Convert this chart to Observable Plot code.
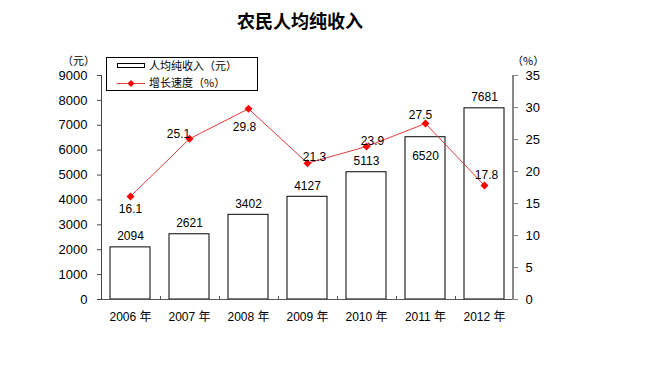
<!DOCTYPE html>
<html>
<head>
<meta charset="utf-8">
<script src="https://cdn.jsdelivr.net/npm/d3@7"></script>
<script src="https://cdn.jsdelivr.net/npm/@observablehq/plot@0.6"></script>
<style>
  html, body { margin: 0; padding: 0; background: #fff; }
  #wrap { position: relative; width: 649px; height: 384px; font-family: "Liberation Sans", Arial, "Noto Sans CJK SC", sans-serif; color: #000; }
  #chart { position: absolute; left: 0; top: 0; }
  .abs { position: absolute; white-space: nowrap; }
  #title { left: 0; width: 600px; top: 7px; text-align: center; font-family: "Noto Sans CJK SC", sans-serif; font-weight: bold; font-size: 18px; }
  #legend { left: 106px; top: 57px; width: 150px; height: 32px; border: 1px solid #000; background: #fff; font-family: "Noto Sans CJK SC", sans-serif; font-size: 11px; }
  .unit { font-family: "Noto Sans CJK SC", sans-serif; font-size: 11px; top: 54px; line-height: 13px; height: 13px; }
</style>
</head>
<body>
<div id="wrap">
  <div id="chart"></div>
  <div id="title" class="abs">农民人均纯收入</div>
  <div class="abs unit" style="left:62px">（元）</div>
  <div class="abs unit" style="left:512px">（%）</div>
  <div id="legend" class="abs">
    <svg class="abs" style="left:0;top:0" width="150" height="32">
      <rect x="10.5" y="5.5" width="27" height="4" fill="#fff" stroke="#000"></rect>
      <line x1="10" x2="38" y1="25.5" y2="25.5" stroke="#e03c3c" stroke-width="1"></line>
      <path d="M24,22 L27.5,25.5 L24,29 L20.5,25.5 Z" fill="#ff0000"></path>
    </svg>
    <div class="abs" style="left:42px;top:0px;line-height:15px">人均纯收入（元）</div>
    <div class="abs" style="left:42px;top:17px;line-height:15px">增长速度（%）</div>
  </div>
</div>
<script>
const years = ["2006", "2007", "2008", "2009", "2010", "2011", "2012"];
const income = [2094, 2621, 3402, 4127, 5113, 6520, 7681];
const growth = [16.1, 25.1, 29.8, 21.3, 23.9, 27.5, 17.8];
const leftTicks = [0, 1000, 2000, 3000, 4000, 5000, 6000, 7000, 8000, 9000];
const rightTicks = [0, 5, 10, 15, 20, 25, 30, 35];

const yMax = 9000, rMax = 35, k = yMax / rMax;
const rows = years.map((y, i) => ({year: y, income: income[i], growth: growth[i], i}));

// label offsets (style)
const lineDx = [0, -11, -4, 7, 6, -5, 2];
const lineDy = [13, -5, 18, -6, -5, -8, -10];
const insideBar = [false, false, false, false, false, true, false];

const axisLines = (index, scales, values, dims) => {
  const g = d3.create("svg:g");
  const x0 = dims.marginLeft, x1 = dims.width - dims.marginRight;
  const y0 = dims.marginTop, y1 = dims.height - dims.marginBottom;
  g.append("line").attr("x1", x0).attr("x2", x1).attr("y1", y1 + 0.5).attr("y2", y1 + 0.5).attr("stroke", "#555");
  g.append("line").attr("x1", x0 + 0.5).attr("x2", x0 + 0.5).attr("y1", y0).attr("y2", y1 + 1).attr("stroke", "#444");
  g.append("line").attr("x1", x1).attr("x2", x1).attr("y1", y0).attr("y2", y1 + 1).attr("stroke", "#888").attr("stroke-width", 2);
  // small ticks at band boundaries
  const bw = scales.x.bandwidth(), step = scales.x.step();
  years.slice(1).forEach(yr => {
    const bx = Math.round(scales.x(yr) - (step - bw) / 2) + 0.5;
    g.append("line").attr("x1", bx).attr("x2", bx).attr("y1", y1 - 3).attr("y2", y1).attr("stroke", "#555");
  });
  return g.node();
};

const lineLabelMarks = rows.map((r, i) => Plot.text([r], {
  x: "year", y: d => d.growth * k, text: d => d.growth.toFixed(1),
  dx: lineDx[i], dy: lineDy[i], fontSize: 12, fill: "#000"
}));

const plot = Plot.plot({
  width: 649,
  height: 384,
  marginLeft: 101,
  marginRight: 136,
  marginTop: 75,
  marginBottom: 85,
  style: {fontFamily: "'Liberation Sans', Arial, 'Noto Sans CJK SC', sans-serif", background: "transparent", overflow: "visible"},
  x: {type: "band", domain: years, paddingInner: 0.32, paddingOuter: 0.15},
  y: {domain: [0, yMax]},
  marks: [
    Plot.barY(rows, {x: "year", y: "income", fill: "#fff", stroke: "#000", strokeWidth: 1}),
    axisLines,
    Plot.axisY({anchor: "left", ticks: leftTicks, tickFormat: d => String(d), tickSize: 4, tickPadding: 10, fontSize: 13, stroke: "#444", label: null}),
    Plot.axisY({anchor: "right", ticks: rightTicks.map(v => v * k), tickFormat: d => String(Math.round(d / k)), tickSize: 4, tickPadding: 8, fontSize: 13, stroke: "#888", label: null}),
    Plot.axisX({tickSize: 0, tickPadding: 13, tickFormat: d => d + " 年", fontSize: 12, label: null}),
    Plot.text(rows.filter(r => !insideBar[r.i]), {x: "year", y: "income", text: d => String(d.income), dy: -11, fontSize: 12, fill: "#000"}),
    Plot.text(rows.filter(r => insideBar[r.i]), {x: "year", y: "income", text: d => String(d.income), dy: 19, fontSize: 12, fill: "#000"}),
    Plot.line(rows, {x: "year", y: d => d.growth * k, stroke: "#e03c3c", strokeWidth: 1}),
    Plot.dot(rows, {x: "year", y: d => d.growth * k, symbol: "diamond2", r: 3.6, fill: "#ff0000", stroke: "none"}),
    ...lineLabelMarks
  ]
});
document.getElementById("chart").appendChild(plot);
</script>
</body>
</html>
